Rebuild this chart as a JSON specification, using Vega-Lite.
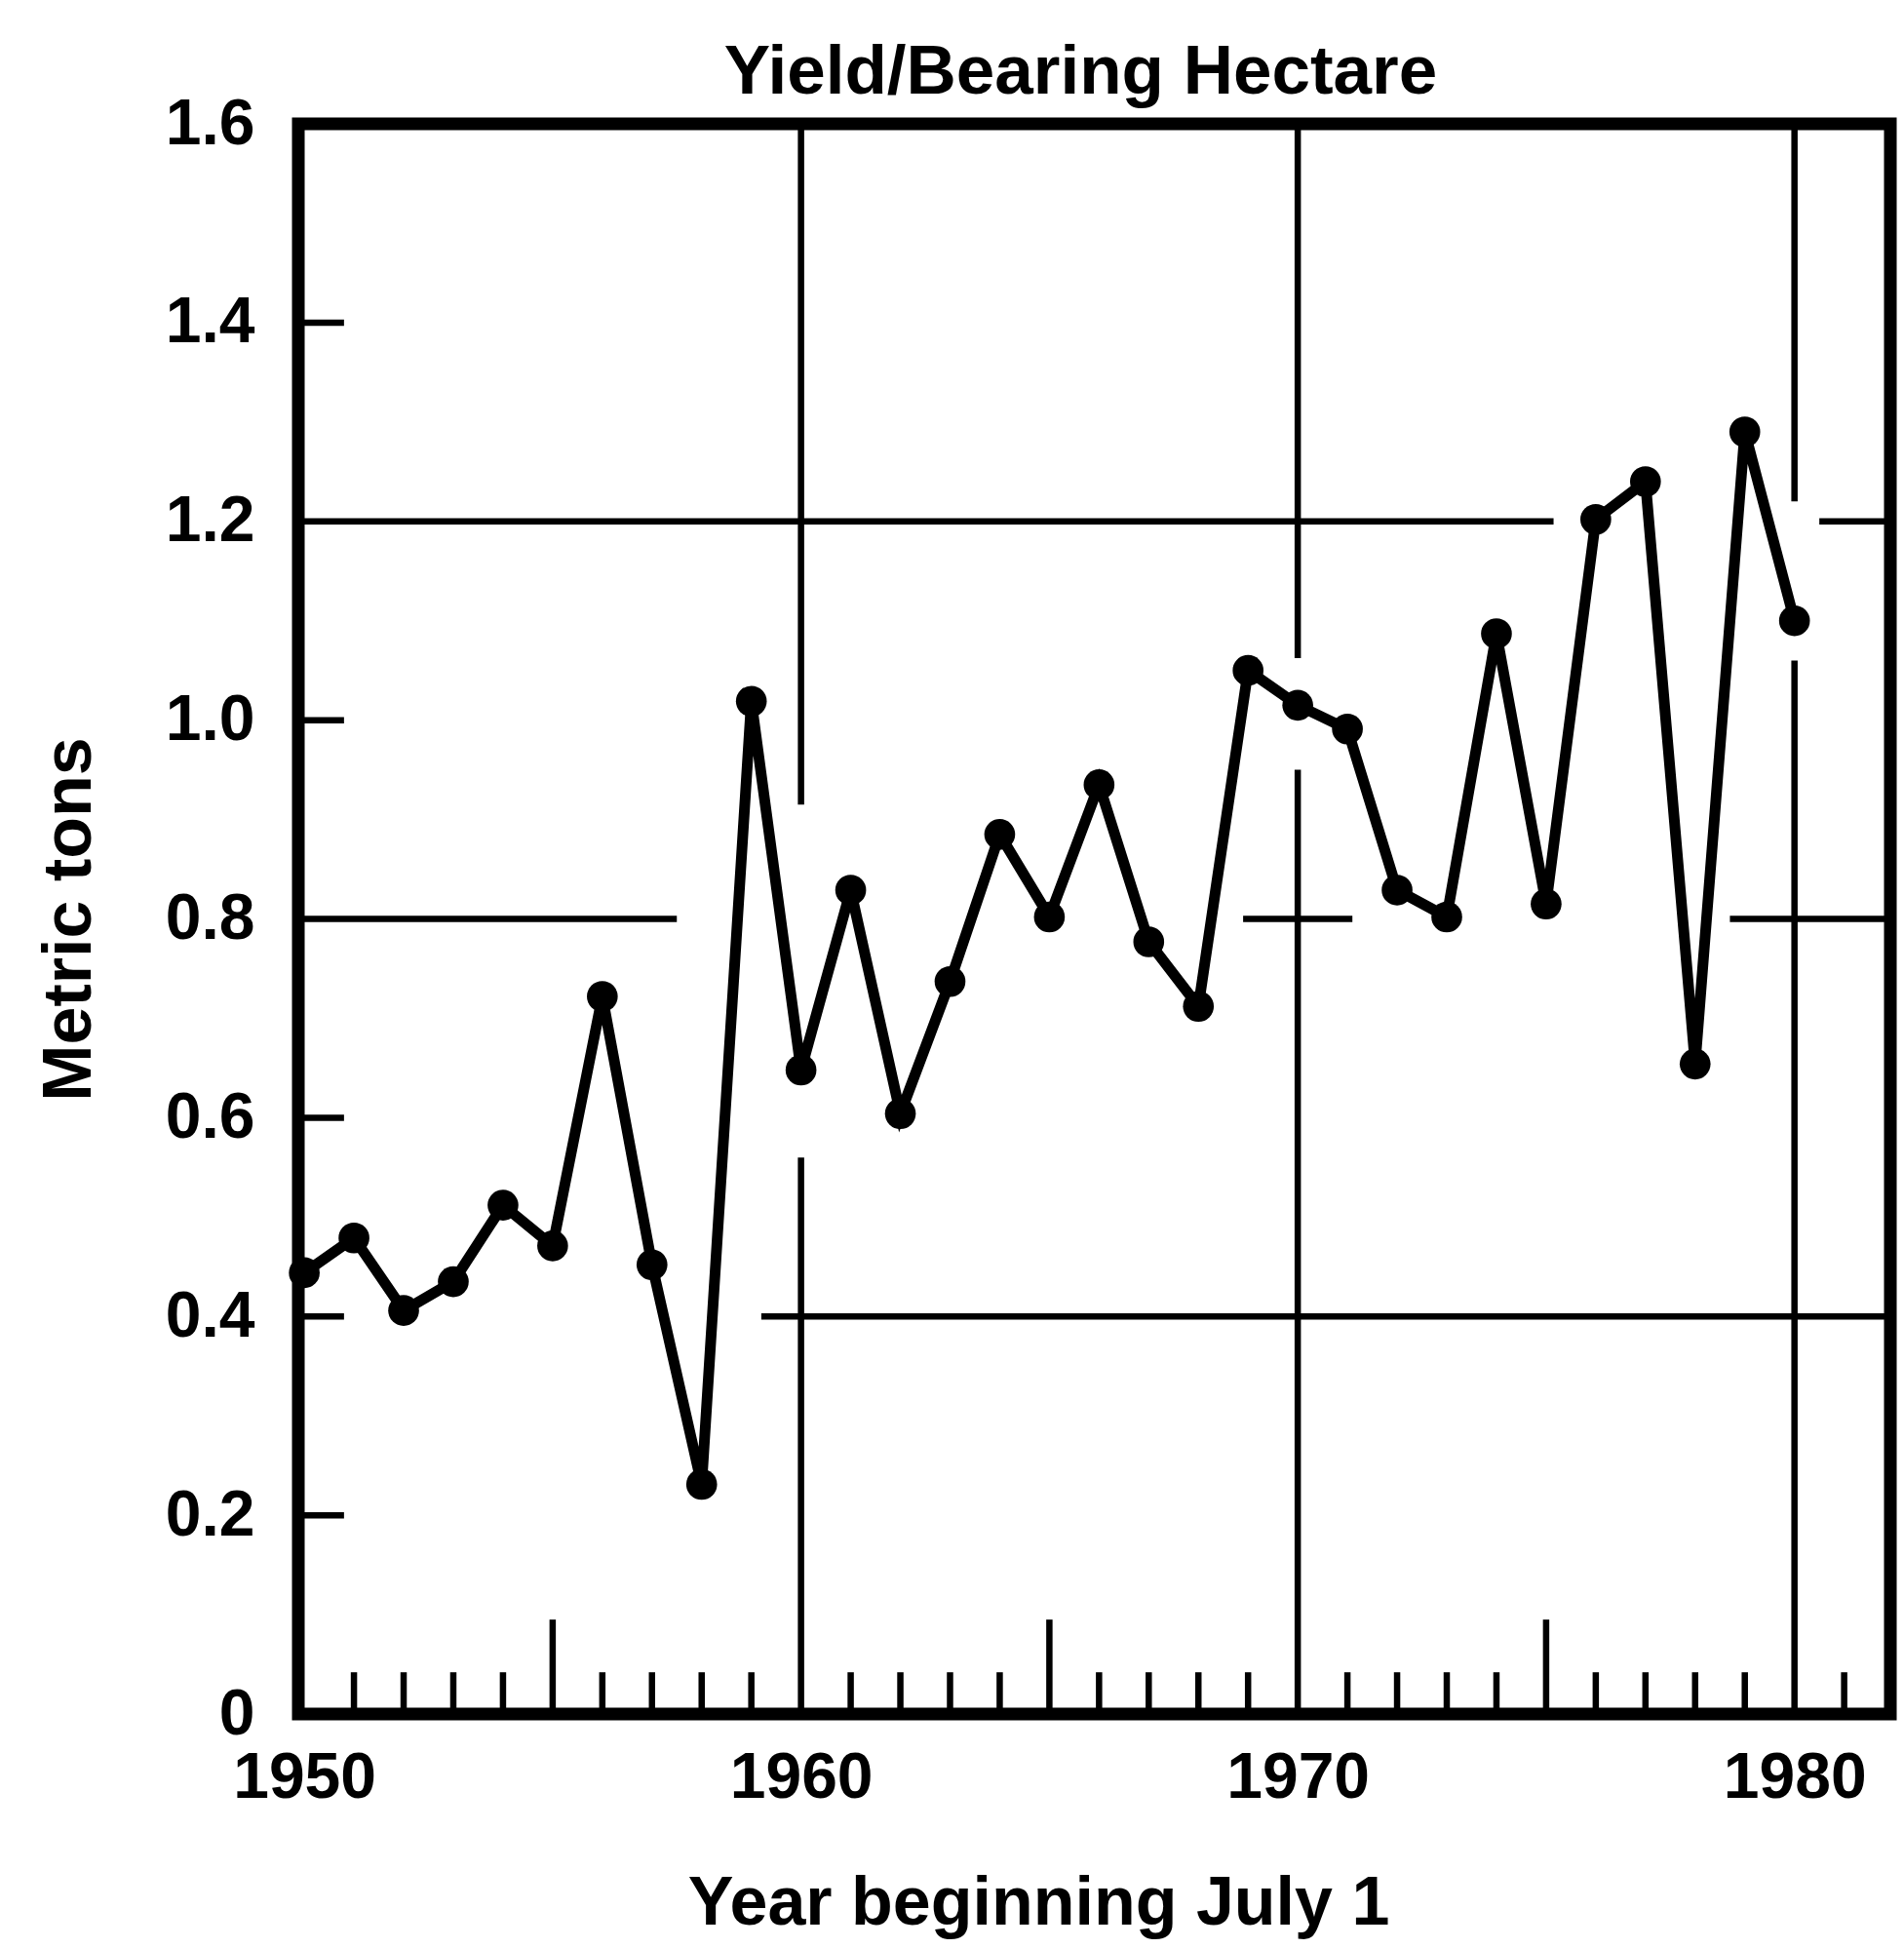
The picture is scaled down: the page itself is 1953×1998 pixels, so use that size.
{
  "$schema": "https://vega.github.io/schema/vega-lite/v6.json",
  "width": 1633,
  "height": 1631,
  "autosize": {"type": "none"},
  "padding": {"left": 306, "top": 127, "right": 14, "bottom": 240},
  "background": "white",
  "title": {
    "text": "Yield/Bearing Hectare",
    "font": "Liberation Sans",
    "fontSize": 71,
    "fontWeight": "bold",
    "color": "black",
    "anchor": "middle",
    "baseline": "bottom",
    "offset": 2,
    "dy": 90,
    "dx": -14
  },
  "config": {
    "view": {"stroke": "black", "strokeWidth": 13},
    "axis": {
      "domain": false,
      "grid": false,
      "ticks": false,
      "tickSize": 0,
      "labelFont": "Liberation Sans",
      "labelFontWeight": "bold",
      "labelColor": "black",
      "titleFont": "Liberation Sans",
      "titleFontWeight": "bold",
      "titleColor": "black"
    }
  },
  "datasets": {
    "yield": [
      {"year": 1950, "tons": 0.444},
      {"year": 1951, "tons": 0.479},
      {"year": 1952, "tons": 0.406},
      {"year": 1953, "tons": 0.435},
      {"year": 1954, "tons": 0.512},
      {"year": 1955, "tons": 0.471},
      {"year": 1956, "tons": 0.722},
      {"year": 1957, "tons": 0.452},
      {"year": 1958, "tons": 0.231},
      {"year": 1959, "tons": 1.019},
      {"year": 1960, "tons": 0.648},
      {"year": 1961, "tons": 0.829},
      {"year": 1962, "tons": 0.604},
      {"year": 1963, "tons": 0.737},
      {"year": 1964, "tons": 0.885},
      {"year": 1965, "tons": 0.802},
      {"year": 1966, "tons": 0.935},
      {"year": 1967, "tons": 0.777},
      {"year": 1968, "tons": 0.712},
      {"year": 1969, "tons": 1.05},
      {"year": 1970, "tons": 1.015},
      {"year": 1971, "tons": 0.991},
      {"year": 1972, "tons": 0.829},
      {"year": 1973, "tons": 0.802},
      {"year": 1974, "tons": 1.087},
      {"year": 1975, "tons": 0.815},
      {"year": 1976, "tons": 1.202},
      {"year": 1977, "tons": 1.24},
      {"year": 1978, "tons": 0.654},
      {"year": 1979, "tons": 1.29},
      {"year": 1980, "tons": 1.1}
    ],
    "grid": [
      {"x1": 1949.88, "x2": 1975.15, "y1": 1.2, "y2": 1.2},
      {"x1": 1980.5, "x2": 1981.93, "y1": 1.2, "y2": 1.2},
      {"x1": 1949.88, "x2": 1957.5, "y1": 0.8, "y2": 0.8},
      {"x1": 1968.9, "x2": 1971.1, "y1": 0.8, "y2": 0.8},
      {"x1": 1978.7, "x2": 1981.93, "y1": 0.8, "y2": 0.8},
      {"x1": 1959.2, "x2": 1981.93, "y1": 0.4, "y2": 0.4},
      {"x1": 1960, "x2": 1960, "y1": 0.915, "y2": 1.6},
      {"x1": 1960, "x2": 1960, "y1": 0, "y2": 0.56},
      {"x1": 1970, "x2": 1970, "y1": 1.0625, "y2": 1.6},
      {"x1": 1970, "x2": 1970, "y1": 0, "y2": 0.95},
      {"x1": 1980, "x2": 1980, "y1": 1.22, "y2": 1.6},
      {"x1": 1980, "x2": 1980, "y1": 0, "y2": 1.06}
    ],
    "minorTicks": [
      {"year": 1951}, {"year": 1952}, {"year": 1953}, {"year": 1954},
      {"year": 1956}, {"year": 1957}, {"year": 1958}, {"year": 1959},
      {"year": 1961}, {"year": 1962}, {"year": 1963}, {"year": 1964},
      {"year": 1966}, {"year": 1967}, {"year": 1968}, {"year": 1969},
      {"year": 1971}, {"year": 1972}, {"year": 1973}, {"year": 1974},
      {"year": 1976}, {"year": 1977}, {"year": 1978}, {"year": 1979},
      {"year": 1981}
    ],
    "majorTicks": [{"year": 1955}, {"year": 1965}, {"year": 1975}],
    "yTicks": [{"v": 0.2}, {"v": 0.4}, {"v": 0.6}, {"v": 1.0}, {"v": 1.4}]
  },
  "layer": [
    {
      "data": {"name": "grid"},
      "mark": {"type": "rule", "color": "black", "strokeWidth": 6.5},
      "encoding": {
        "x": {
          "field": "x1",
          "type": "quantitative",
          "scale": {"domain": [1949.88, 1981.93], "nice": false, "zero": false},
          "axis": {
            "values": [1950, 1960, 1970, 1980],
            "format": "d",
            "labelFontSize": 66,
            "labelPadding": 33,
            "title": "Year beginning July 1",
            "titleFontSize": 70,
            "titlePadding": 62,
            "titleX": 759
          }
        },
        "x2": {"field": "x2"},
        "y": {
          "field": "y1",
          "type": "quantitative",
          "scale": {"domain": [0, 1.6], "nice": false},
          "axis": {
            "values": [0, 0.2, 0.4, 0.6, 0.8, 1.0, 1.2, 1.4, 1.6],
            "labelExpr": "datum.value == 0 ? '0' : format(datum.value, '.1f')",
            "labelFontSize": 66,
            "labelPadding": 45,
            "title": "Metric tons",
            "titleFontSize": 70,
            "titlePadding": 62
          }
        },
        "y2": {"field": "y2"}
      }
    },
    {
      "data": {"name": "minorTicks"},
      "mark": {"type": "rule", "color": "black", "strokeWidth": 6.5},
      "encoding": {
        "x": {"field": "year", "type": "quantitative"},
        "y": {"datum": 0},
        "y2": {"datum": 0.042}
      }
    },
    {
      "data": {"name": "majorTicks"},
      "mark": {"type": "rule", "color": "black", "strokeWidth": 6.5},
      "encoding": {
        "x": {"field": "year", "type": "quantitative"},
        "y": {"datum": 0},
        "y2": {"datum": 0.095}
      }
    },
    {
      "data": {"name": "yTicks"},
      "mark": {"type": "rule", "color": "black", "strokeWidth": 6.5},
      "encoding": {
        "y": {"field": "v", "type": "quantitative"},
        "x": {"datum": 1949.88},
        "x2": {"datum": 1950.8}
      }
    },
    {
      "data": {"name": "yield"},
      "mark": {
        "type": "line",
        "color": "black",
        "strokeWidth": 11,
        "point": {"filled": true, "size": 1000, "color": "black", "opacity": 1}
      },
      "encoding": {
        "x": {"field": "year", "type": "quantitative"},
        "y": {"field": "tons", "type": "quantitative"}
      }
    }
  ]
}
